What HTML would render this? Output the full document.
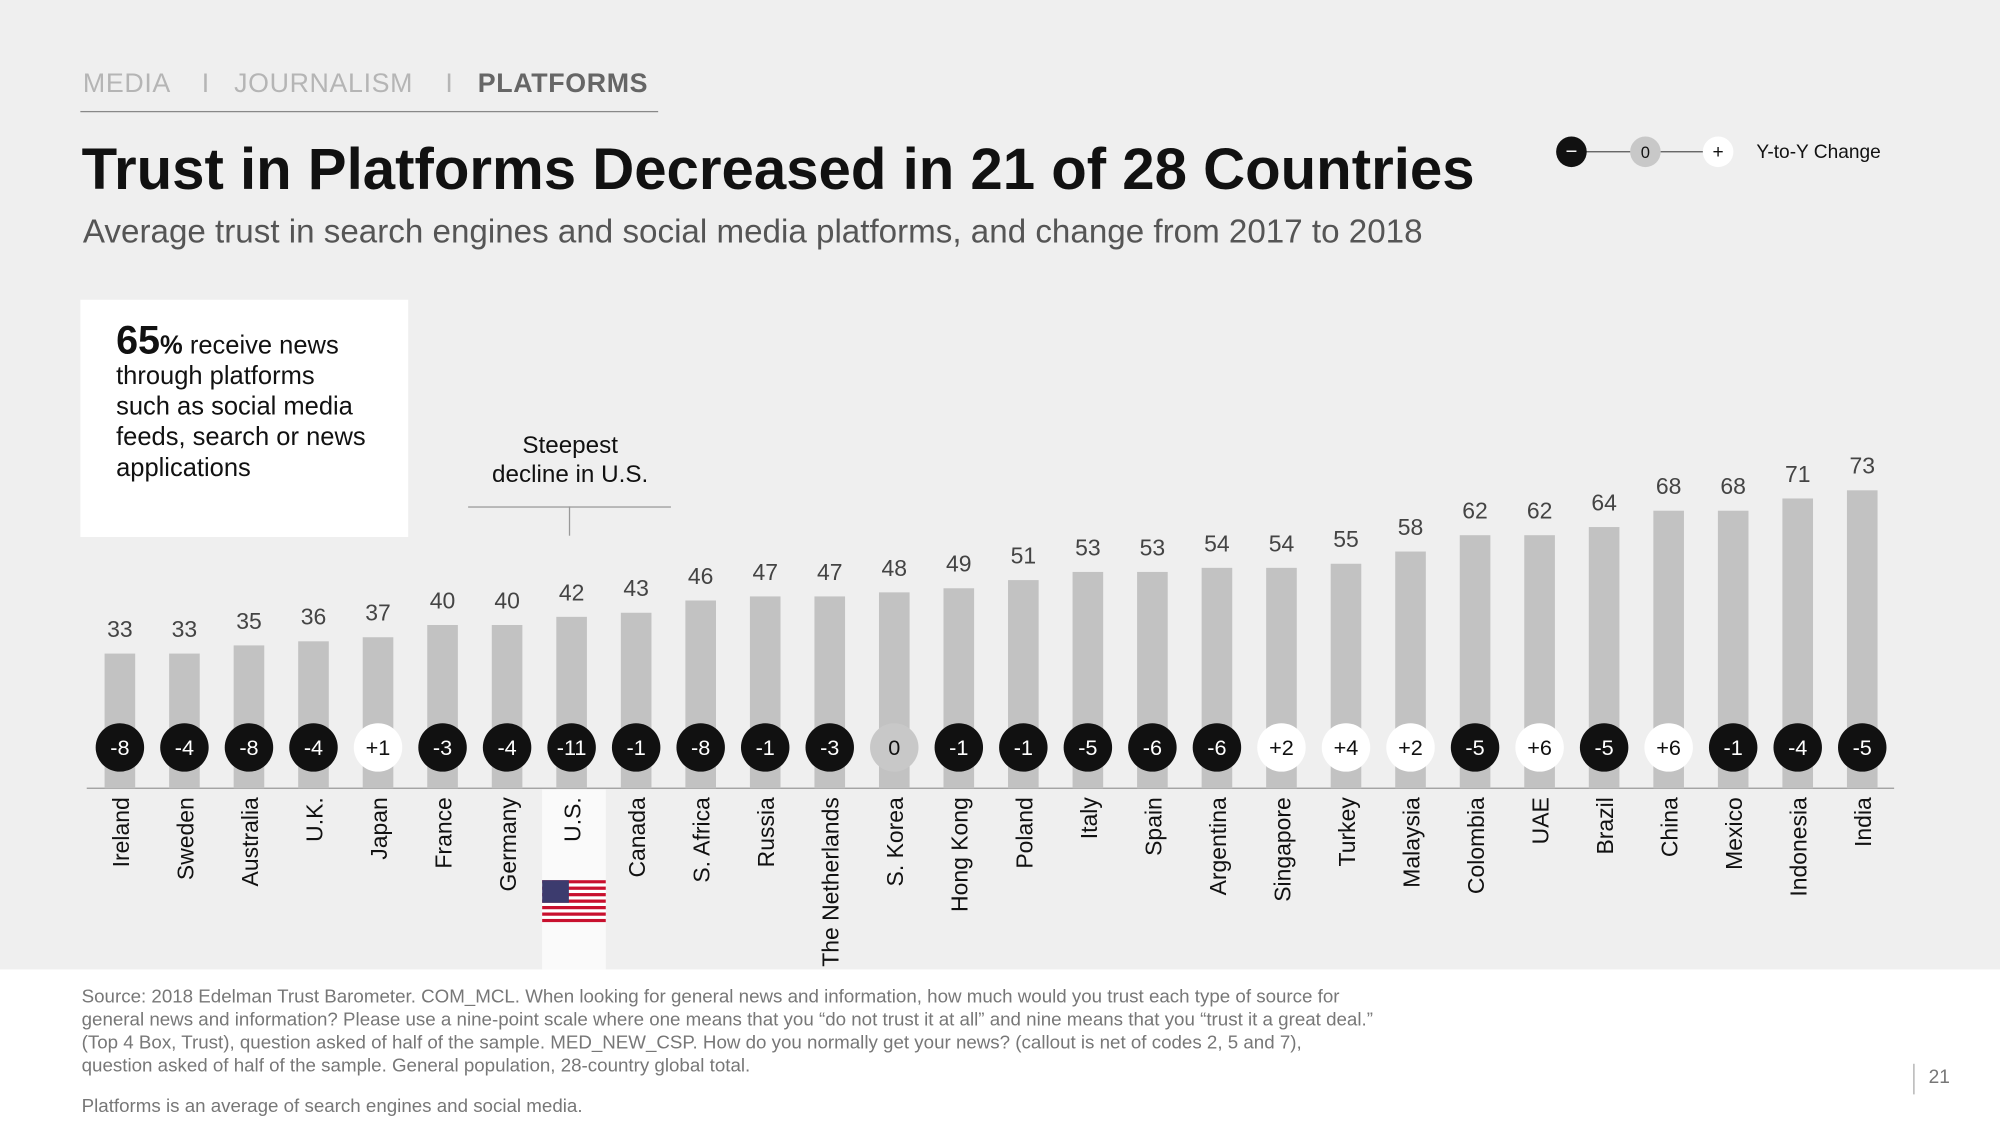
<!DOCTYPE html>
<html><head><meta charset="utf-8">
<style>
html,body{margin:0;padding:0;width:2000px;height:1125px;overflow:hidden;background:#fff}
#wrap{width:1568px;height:882px;transform:scale(1.27551);transform-origin:0 0;position:relative;font-family:"Liberation Sans",sans-serif}
.abs{position:absolute}
</style></head><body>
<div id="wrap">
<div class="abs" style="left:0;top:0;width:1568px;height:760px;background:#efefef"></div>
<div class="abs" style="left:65px;top:54px;font-size:21px;color:#b5b5b5;letter-spacing:0.5px;white-space:nowrap">MEDIA &nbsp;&nbsp; I &nbsp;&nbsp;JOURNALISM &nbsp;&nbsp; I &nbsp;&nbsp;<span style="color:#666;font-weight:bold">PLATFORMS</span></div>
<div class="abs" style="left:63px;top:87px;width:453px;height:1px;background:#888"></div>
<div class="abs" style="left:64px;top:107px;font-size:45.6px;font-weight:bold;color:#111;white-space:nowrap">Trust in Platforms Decreased in 21 of 28 Countries</div>
<div class="abs" style="left:65px;top:166px;font-size:26px;color:#555;white-space:nowrap">Average trust in search engines and social media platforms, and change from 2017 to 2018</div>
<div class="abs" style="left:63px;top:235px;width:257px;height:186px;background:#fff"></div>
<div class="abs" style="left:91px;top:255px;font-size:20px;line-height:24px;color:#111;white-space:nowrap"><span style="font-size:31px;font-weight:bold">65</span><b style="font-weight:bold">%</b> receive news<br>through platforms<br>such as social media<br>feeds, search or news<br>applications</div>
<div class="abs" style="left:367px;top:338px;width:160px;text-align:center;font-size:19px;line-height:23px;color:#111">Steepest<br>decline in U.S.</div>
<div class="abs" style="left:367px;top:397px;width:159px;height:1px;background:#999"></div>
<div class="abs" style="left:446px;top:397px;width:1px;height:23px;background:#999"></div>
<div class="abs" style="left:425px;top:619px;width:50px;height:141px;background:#fafafa"></div>
<svg class="abs" style="left:425px;top:690px" width="50" height="33" viewBox="0 0 50 33">
<rect width="50" height="33" fill="#fff"/>
<g fill="#c8102e"><rect y="0" width="50" height="2.54"/><rect y="5.08" width="50" height="2.54"/><rect y="10.15" width="50" height="2.54"/><rect y="15.23" width="50" height="2.54"/><rect y="20.3" width="50" height="2.54"/><rect y="25.4" width="50" height="2.54"/><rect y="30.46" width="50" height="2.54"/></g>
<rect width="21" height="17.8" fill="#3c3b6e"/>
</svg>
<svg class="abs" id="chart" style="left:0;top:0" width="1568" height="882"></svg>
<svg class="abs" style="left:1215px;top:102px" width="280" height="34">
<line x1="17" y1="17" x2="132" y2="17" stroke="#555" stroke-width="1"/>
<circle cx="17" cy="17" r="12" fill="#111"/><text x="17" y="22" text-anchor="middle" font-size="16" fill="#fff" font-family="Liberation Sans">−</text>
<circle cx="75" cy="17" r="12" fill="#c8c8c8"/><text x="75" y="22" text-anchor="middle" font-size="13" fill="#111" font-family="Liberation Sans">0</text>
<circle cx="132" cy="17" r="12" fill="#fff"/><text x="132" y="22" text-anchor="middle" font-size="15" fill="#111" font-family="Liberation Sans">+</text>
<text x="162" y="22" font-size="15" fill="#111" font-family="Liberation Sans">Y-to-Y Change</text>
</svg>
<div class="abs" style="left:64px;top:773px;font-size:14.7px;line-height:18px;color:#777;white-space:nowrap">Source: 2018 Edelman Trust Barometer. COM_MCL. When looking for general news and information, how much would you trust each type of source for<br>general news and information? Please use a nine-point scale where one means that you “do not trust it at all” and nine means that you “trust it a great deal.”<br>(Top 4 Box, Trust), question asked of half of the sample. MED_NEW_CSP. How do you normally get your news? (callout is net of codes 2, 5 and 7),<br>question asked of half of the sample. General population, 28-country global total.</div>
<div class="abs" style="left:64px;top:860px;font-size:14.7px;color:#777">Platforms is an average of search engines and social media.</div>
<div class="abs" style="left:1500px;top:834px;width:1px;height:24px;background:#aaa"></div>
<div class="abs" style="left:1512px;top:836px;font-size:15px;color:#777">21</div>
</div>
<script>
const countries=["Ireland","Sweden","Australia","U.K.","Japan","France","Germany","U.S.","Canada","S. Africa","Russia","The Netherlands","S. Korea","Hong Kong","Poland","Italy","Spain","Argentina","Singapore","Turkey","Malaysia","Colombia","UAE","Brazil","China","Mexico","Indonesia","India"];
const trust=[33,33,35,36,37,40,40,42,43,46,47,47,48,49,51,53,53,54,54,55,58,62,62,64,68,68,71,73];
const change=[-8,-4,-8,-4,1,-3,-4,-11,-1,-8,-1,-3,0,-1,-1,-5,-6,-6,2,4,2,-5,6,-5,6,-1,-4,-5];
const NS="http://www.w3.org/2000/svg";
const svg=document.getElementById('chart');
const x0=94,step=(1460-94)/27,base=618,k=3.2;
const xs=i=>x0+i*step, ys=v=>base-v*k;
function mk(t,a){const e=document.createElementNS(NS,t);for(const n in a)e.setAttribute(n,a[n]);svg.appendChild(e);return e;}
const ax=mk('line',{x1:68,x2:1485,y1:base,y2:base,stroke:'#999','stroke-width':1});


countries.forEach((c,i)=>{
  const x=xs(i),v=trust[i],d=change[i];
  const b=mk('rect',{x:x-12,y:ys(v),width:24,height:v*k,fill:'#c2c2c2'});
  
  
  const t=mk('text',{x:x,y:ys(v)-13,'text-anchor':'middle','font-size':18,fill:'#444','font-family':'Liberation Sans'});
  t.textContent=v;
  
  
  const fill=d<0?'#111':(d>0?'#fff':'#c8c8c8');
  const cc=mk('circle',{cx:x,cy:586,r:19,fill:fill});
  
  
  const ct=mk('text',{x:x,y:592,'text-anchor':'middle','font-size':17,fill:d<0?'#fff':'#111','font-family':'Liberation Sans'});
  ct.textContent=d>0?'+'+d:String(d);
  
  
  const lt=mk('text',{x:0,y:0,'text-anchor':'end','font-size':18,fill:'#111','font-family':'Liberation Sans',transform:`translate(${x+7},625) rotate(-90)`});
  lt.textContent=c;
  
  
});
</script>
</body></html>
